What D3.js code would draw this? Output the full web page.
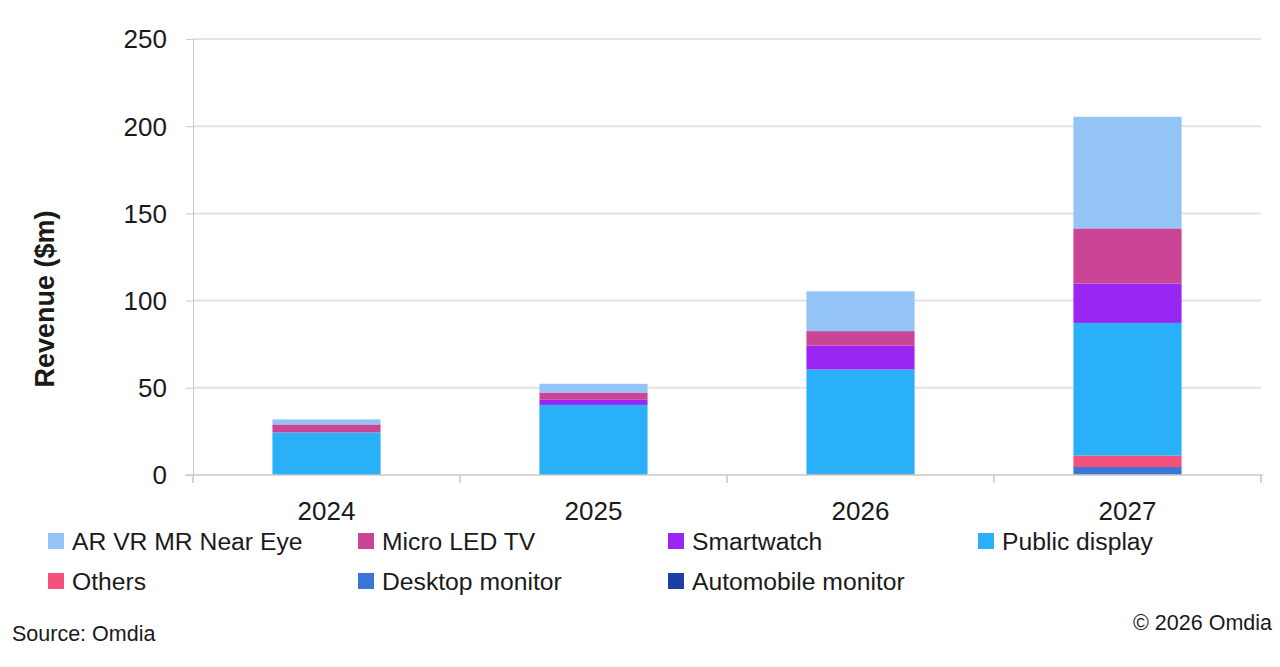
<!DOCTYPE html>
<html lang="en">
<head>
<meta charset="utf-8">
<title>Revenue by application</title>
<script src="https://d3js.org/d3.v7.min.js"></script>
<style>
  body { margin: 0; background: #fff; }
  svg text { font-family: "Liberation Sans", Arial, sans-serif; fill: #1a1a1a; }
  .legend text { font-family: "Liberation Sans Narrow", "Liberation Sans", Arial, sans-serif; }
</style>
</head>
<body>
<script>
// data ($m)
var years = ["2024", "2025", "2026", "2027"];
var seriesNames = ["Automobile monitor", "Desktop monitor", "Others", "Public display", "Smartwatch", "Micro LED TV", "AR VR MR Near Eye"];
var automobile = [0, 0, 0, 0.3];
var desktop    = [0, 0, 0, 4.3];
var others     = [0, 0, 0.5, 6.5];
var publicDisp = [24.4, 40.2, 60.0, 76.1];
var smartwatch = [0, 2.9, 13.6, 22.6];
var microLed   = [4.6, 4.2, 8.4, 31.6];
var arvr       = [2.9, 5.0, 22.8, 64.0];
var yTicks = [0, 50, 100, 150, 200, 250];
var colors = ["#1c3fa6", "#3a76d6", "#f4527c", "#29b0f8", "#9a26f4", "#cb4596", "#94c4f6"];
var legendOrder = ["AR VR MR Near Eye", "Micro LED TV", "Smartwatch", "Public display", "Others", "Desktop monitor", "Automobile monitor"];

var W = 1280, H = 667;
var margin = {left: 193, right: 19, top: 39, bottom: 192};

var table = years.map(function(y, i) {
  return {
    year: y,
    "Automobile monitor": automobile[i],
    "Desktop monitor": desktop[i],
    "Others": others[i],
    "Public display": publicDisp[i],
    "Smartwatch": smartwatch[i],
    "Micro LED TV": microLed[i],
    "AR VR MR Near Eye": arvr[i]
  };
});

var svg = d3.select("body").append("svg")
  .attr("width", W)
  .attr("height", H);

var x = d3.scaleBand()
  .domain(years)
  .range([margin.left, W - margin.right])
  .paddingInner(0.595)
  .paddingOuter(0.2975);

var y = d3.scaleLinear()
  .domain([0, 250])
  .range([H - margin.bottom + 0, margin.top]);

var color = d3.scaleOrdinal().domain(seriesNames).range(colors);

// gridlines
svg.append("g")
  .selectAll("line")
  .data(yTicks.slice(1))
  .enter().append("line")
  .attr("x1", margin.left).attr("x2", W - margin.right)
  .attr("y1", function(d) { return y(d); })
  .attr("y2", function(d) { return y(d); })
  .attr("stroke", "#e3e3e3")
  .attr("stroke-width", 2);

// y axis
var yAxis = svg.append("g")
  .attr("transform", "translate(" + margin.left + ",0)")
  .call(d3.axisLeft(y).tickValues(yTicks).tickSize(7).tickPadding(7));
yAxis.select(".domain").attr("stroke", "#c8c8c8");
yAxis.selectAll(".tick line").attr("stroke", "#c8c8c8");
yAxis.selectAll(".tick text")
  .style("font-size", "26px")
  .attr("dy", "0.34em")
  .attr("x", -26);

// stacked bars
var stack = d3.stack().keys(seriesNames);
var layers = stack(table);

svg.append("g")
  .selectAll("g")
  .data(layers)
  .enter().append("g")
  .attr("fill", function(d) { return color(d.key); })
  .selectAll("rect")
  .data(function(d) { return d; })
  .enter().append("rect")
  .attr("x", function(d) { return x(d.data.year); })
  .attr("width", x.bandwidth())
  .attr("y", function(d) { return y(d[1]); })
  .attr("height", function(d) { return Math.max(0, y(d[0]) - y(d[1])); });

// x axis (ticks sit between the categories)
var step = x.step();
var xAxisG = svg.append("g")
  .attr("transform", "translate(0," + y(0) + ")");
xAxisG.append("line")
  .attr("x1", margin.left - 8).attr("x2", W - margin.right + 2)
  .attr("stroke", "#c8c8c8").attr("stroke-width", 1.5);
xAxisG.selectAll(".sep")
  .data(d3.range(years.length + 1))
  .enter().append("line")
  .attr("class", "sep")
  .attr("x1", function(i) { return margin.left + i * step; })
  .attr("x2", function(i) { return margin.left + i * step; })
  .attr("y1", 0).attr("y2", 8)
  .attr("stroke", "#c8c8c8").attr("stroke-width", 1.5);
xAxisG.selectAll(".lab")
  .data(years)
  .enter().append("text")
  .attr("class", "lab")
  .attr("x", function(d) { return x(d) + x.bandwidth() / 2; })
  .attr("y", 45)
  .attr("text-anchor", "middle")
  .style("font-size", "26px")
  .text(function(d) { return d; });

// y title
svg.append("text")
  .attr("transform", "translate(54,299) rotate(-90)")
  .attr("text-anchor", "middle")
  .style("font-size", "27px")
  .style("font-weight", "bold")
  .text("Revenue ($m)");

// legend
var legX = [48, 358, 668, 978];
var legY = [541, 581];
var leg = svg.append("g").attr("class", "legend")
  .selectAll("g")
  .data(legendOrder)
  .enter().append("g")
  .attr("transform", function(d, i) {
    return "translate(" + legX[i % 4] + "," + legY[Math.floor(i / 4)] + ")";
  });
leg.append("rect")
  .attr("x", 0).attr("y", -8)
  .attr("width", 16).attr("height", 16)
  .attr("fill", function(d) { return color(d); });
leg.append("text")
  .attr("x", 24)
  .attr("dy", "0.35em")
  .style("font-size", "24.7px")
  .text(function(d) { return d; });

// footer
svg.append("text")
  .attr("x", 12).attr("y", 641)
  .style("font-size", "21.5px")
  .style("font-family", "'Liberation Sans Narrow', 'Liberation Sans', Arial, sans-serif")
  .text("Source: Omdia");
svg.append("text")
  .attr("x", W - 8).attr("y", 630)
  .attr("text-anchor", "end")
  .style("font-size", "21.5px")
  .style("font-family", "'Liberation Sans Narrow', 'Liberation Sans', Arial, sans-serif")
  .text("\u00a9 2026 Omdia");
</script>
</body>
</html>
